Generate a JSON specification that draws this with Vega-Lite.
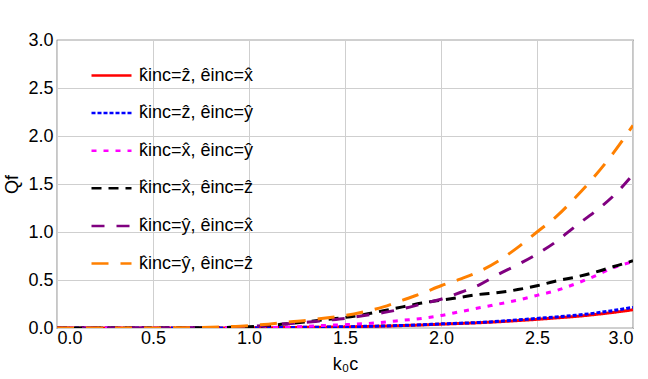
{
  "$schema": "https://vega.github.io/schema/vega-lite/v6.json",
  "autosize": "none",
  "width": 576,
  "height": 288,
  "padding": {"left": 57, "top": 40, "right": 15, "bottom": 51},
  "background": "white",
  "config": {
    "font": "Liberation Sans",
    "view": {"stroke": "#444", "strokeWidth": 1.2},
    "axis": {
      "labelFont": "Liberation Sans",
      "titleFont": "Liberation Sans",
      "labelFontSize": 18,
      "titleFontSize": 18,
      "labelColor": "#000",
      "titleColor": "#000",
      "titleFontWeight": "normal",
      "gridColor": "#cfcfcf",
      "gridWidth": 1,
      "domain": false,
      "tickColor": "#444",
      "tickSize": 5
    }
  },
  "data": {
    "values": [
      {"x": 0.0, "a": 0, "b": 0, "c": 0, "d": 0, "e": 0, "f": 0},
      {"x": 0.1, "a": 0, "b": 0, "c": 0, "d": 0, "e": 0, "f": 0},
      {"x": 0.2, "a": 0, "b": 0, "c": 0, "d": 0, "e": 0, "f": 0},
      {"x": 0.3, "a": 0, "b": 0, "c": 0, "d": 0, "e": 0, "f": 0},
      {"x": 0.4, "a": 0, "b": 0, "c": 0, "d": 0, "e": 0, "f": 0.001},
      {"x": 0.5, "a": 0, "b": 0, "c": 0, "d": 0, "e": 0, "f": 0.001},
      {"x": 0.6, "a": 0, "b": 0, "c": 0, "d": 0.001, "e": 0.001, "f": 0.002},
      {"x": 0.7, "a": 0, "b": 0, "c": 0, "d": 0.002, "e": 0.002, "f": 0.004},
      {"x": 0.8, "a": 0.001, "b": 0.001, "c": 0.001, "d": 0.004, "e": 0.004, "f": 0.008},
      {"x": 0.9, "a": 0.001, "b": 0.001, "c": 0.002, "d": 0.007, "e": 0.008, "f": 0.015},
      {"x": 1.0, "a": 0.002, "b": 0.002, "c": 0.003, "d": 0.012, "e": 0.015, "f": 0.025},
      {"x": 1.1, "a": 0.003, "b": 0.003, "c": 0.005, "d": 0.025, "e": 0.03, "f": 0.04},
      {"x": 1.2, "a": 0.005, "b": 0.005, "c": 0.01, "d": 0.045, "e": 0.045, "f": 0.06},
      {"x": 1.3, "a": 0.007, "b": 0.007, "c": 0.018, "d": 0.065, "e": 0.06, "f": 0.08},
      {"x": 1.4, "a": 0.009, "b": 0.01, "c": 0.027, "d": 0.088, "e": 0.08, "f": 0.105},
      {"x": 1.5, "a": 0.012, "b": 0.013, "c": 0.035, "d": 0.11, "e": 0.1, "f": 0.13},
      {"x": 1.6, "a": 0.016, "b": 0.017, "c": 0.045, "d": 0.14, "e": 0.13, "f": 0.17},
      {"x": 1.7, "a": 0.02, "b": 0.021, "c": 0.06, "d": 0.18, "e": 0.16, "f": 0.22},
      {"x": 1.8, "a": 0.025, "b": 0.027, "c": 0.08, "d": 0.22, "e": 0.2, "f": 0.29},
      {"x": 1.9, "a": 0.032, "b": 0.034, "c": 0.1, "d": 0.26, "e": 0.25, "f": 0.36},
      {"x": 2.0, "a": 0.04, "b": 0.043, "c": 0.13, "d": 0.29, "e": 0.3, "f": 0.44},
      {"x": 2.1, "a": 0.047, "b": 0.05, "c": 0.17, "d": 0.32, "e": 0.37, "f": 0.51},
      {"x": 2.2, "a": 0.055, "b": 0.058, "c": 0.21, "d": 0.35, "e": 0.45, "f": 0.59},
      {"x": 2.3, "a": 0.065, "b": 0.07, "c": 0.25, "d": 0.37, "e": 0.56, "f": 0.7},
      {"x": 2.4, "a": 0.077, "b": 0.084, "c": 0.29, "d": 0.4, "e": 0.66, "f": 0.84},
      {"x": 2.5, "a": 0.09, "b": 0.1, "c": 0.34, "d": 0.44, "e": 0.77, "f": 1.0},
      {"x": 2.6, "a": 0.105, "b": 0.115, "c": 0.39, "d": 0.49, "e": 0.9, "f": 1.16},
      {"x": 2.7, "a": 0.12, "b": 0.132, "c": 0.46, "d": 0.53, "e": 1.06, "f": 1.36},
      {"x": 2.8, "a": 0.14, "b": 0.155, "c": 0.54, "d": 0.58, "e": 1.21, "f": 1.58},
      {"x": 2.9, "a": 0.163, "b": 0.183, "c": 0.63, "d": 0.64, "e": 1.38, "f": 1.83},
      {"x": 3.0, "a": 0.19, "b": 0.215, "c": 0.69, "d": 0.7, "e": 1.6, "f": 2.11}
    ]
  },
  "transform": [
    {"fold": ["a", "b", "c", "d", "e", "f"], "as": ["s", "y"]}
  ],
  "mark": {"type": "line", "strokeWidth": 3, "clip": true, "interpolate": "monotone"},
  "encoding": {
    "x": {
      "field": "x", "type": "quantitative",
      "scale": {"domain": [0, 3], "nice": false},
      "axis": {"values": [0, 0.5, 1, 1.5, 2, 2.5, 3], "format": ".1f", "title": "k₀c", "titlePadding": 8, "labelPadding": 1, "ticks": false}
    },
    "y": {
      "field": "y", "type": "quantitative",
      "scale": {"domain": [0, 3], "nice": false},
      "axis": {"values": [0, 0.5, 1, 1.5, 2, 2.5, 3], "format": ".1f", "title": "Qf", "titlePadding": 6, "labelPadding": 4, "ticks": false}
    },
    "color": {
      "field": "s", "type": "nominal",
      "scale": {"domain": ["a", "b", "c", "d", "e", "f"], "range": ["#ff0000", "#0000ff", "#ff00ff", "#000000", "#800080", "#ff8000"]},
      "legend": {
        "orient": "none",
        "legendX": 33,
        "legendY": 14,
        "title": null,
        "symbolType": "stroke",
        "symbolSize": 1600,
        "symbolStrokeWidth": 2.5,
        "labelFontSize": 18,
        "labelFont": "Liberation Sans",
        "labelColor": "#000",
        "rowPadding": 6.6,
        "labelOffset": 6,
        "labelExpr": "datum.label == 'a' ? 'k̂inc=ẑ, êinc=x̂' : datum.label == 'b' ? 'k̂inc=ẑ, êinc=ŷ' : datum.label == 'c' ? 'k̂inc=x̂, êinc=ŷ' : datum.label == 'd' ? 'k̂inc=x̂, êinc=ẑ' : datum.label == 'e' ? 'k̂inc=ŷ, êinc=x̂' : 'k̂inc=ŷ, êinc=ẑ'"
      }
    },
    "strokeDash": {
      "field": "s", "type": "nominal",
      "scale": {"domain": ["a", "b", "c", "d", "e", "f"], "range": [[1, 0], [4, 2], [5, 7], [10, 7], [13, 12], [17, 12]]},
      "legend": null
    }
  }
}
